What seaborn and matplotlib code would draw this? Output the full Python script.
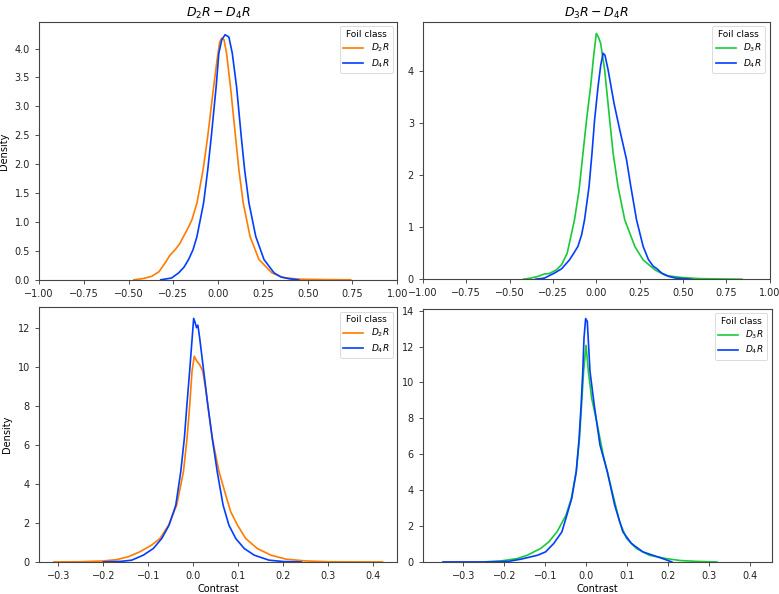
import pandas as pd
import matplotlib
matplotlib.use('Agg')
import matplotlib.pyplot as plt
import seaborn as sns

# --- DATA ---
# top-left: D2R vs D4R, wide x range
tl_d2r_x = [-0.47, -0.42, -0.37, -0.33, -0.296, -0.27, -0.24, -0.215, -0.193, -0.17, -0.146,
            -0.118, -0.084, -0.058, -0.025, -0.006, 0.008, 0.019, 0.033, 0.047, 0.069, 0.097,
            0.116, 0.14, 0.178, 0.228, 0.30, 0.36, 0.45, 0.6, 0.74]
tl_d2r_y = [0.0, 0.02, 0.06, 0.14, 0.29, 0.42, 0.52, 0.62, 0.75, 0.88, 1.04,
            1.33, 1.90, 2.48, 3.34, 3.8, 4.1, 4.18, 4.15, 3.92, 3.34, 2.48,
            1.90, 1.33, 0.75, 0.35, 0.12, 0.04, 0.01, 0.003, 0.0]
tl_d4r_x = [-0.32, -0.26, -0.22, -0.19, -0.165, -0.14, -0.118, -0.081, -0.058, -0.038, -0.011,
            0.004, 0.02, 0.039, 0.06, 0.079, 0.103, 0.129, 0.148, 0.172, 0.21, 0.256,
            0.312, 0.35, 0.40, 0.45]
tl_d4r_y = [0.0, 0.03, 0.12, 0.22, 0.35, 0.52, 0.75, 1.33, 1.90, 2.48, 3.34,
            3.92, 4.15, 4.24, 4.2, 3.92, 3.34, 2.48, 1.90, 1.33, 0.75, 0.35,
            0.12, 0.05, 0.015, 0.0]

# top-right: D3R vs D4R, wide x range
tr_d3r_x = [-0.42, -0.38, -0.34, -0.30, -0.27, -0.23, -0.20, -0.168, -0.126, -0.10, -0.077,
            -0.055, -0.033, -0.015, 0.0, 0.012, 0.025, 0.048, 0.077, 0.097, 0.125, 0.164,
            0.222, 0.27, 0.338, 0.40, 0.50, 0.60, 0.70, 0.84]
tr_d3r_y = [0.0, 0.02, 0.05, 0.10, 0.11, 0.18, 0.28, 0.50, 1.14, 1.70, 2.42,
            3.1, 3.70, 4.3, 4.72, 4.65, 4.53, 4.02, 3.06, 2.42, 1.78, 1.14,
            0.63, 0.37, 0.18, 0.07, 0.03, 0.01, 0.005, 0.0]
tr_d4r_x = [-0.35, -0.30, -0.24, -0.20, -0.155, -0.13, -0.106, -0.085, -0.068, -0.042, -0.025,
            -0.01, 0.01, 0.025, 0.039, 0.05, 0.068, 0.102, 0.135, 0.174, 0.199, 0.232,
            0.27, 0.30, 0.328, 0.35, 0.376, 0.42, 0.46, 0.50, 0.55]
tr_d4r_y = [0.0, 0.02, 0.12, 0.2, 0.37, 0.5, 0.63, 0.85, 1.14, 1.78, 2.42,
            3.06, 3.70, 4.1, 4.34, 4.30, 4.02, 3.38, 2.87, 2.30, 1.78, 1.14,
            0.63, 0.38, 0.25, 0.2, 0.12, 0.05, 0.02, 0.01, 0.0]

# bottom-left: D2R vs D4R, zoomed x range
bl_d2r_x = [-0.31, -0.25, -0.20, -0.17, -0.145, -0.119, -0.093, -0.074, -0.055, -0.037, -0.022,
            -0.014, -0.008, -0.003, 0.002, 0.008, 0.014, 0.021, 0.027, 0.032, 0.042, 0.057,
            0.072, 0.083, 0.098, 0.116, 0.142, 0.172, 0.206, 0.25, 0.30, 0.36, 0.42]
bl_d2r_y = [0.0, 0.01, 0.05, 0.12, 0.26, 0.52, 0.86, 1.21, 1.89, 2.92, 4.64,
            6.36, 8.08, 9.80, 10.57, 10.31, 10.14, 9.80, 8.94, 8.08, 6.36, 4.64,
            3.43, 2.58, 1.89, 1.21, 0.69, 0.35, 0.14, 0.05, 0.01, 0.003, 0.0]
bl_d4r_x = [-0.20, -0.16, -0.137, -0.111, -0.089, -0.070, -0.054, -0.039, -0.028, -0.020, -0.0143,
            -0.0083, 0.0007, 0.004, 0.007, 0.010, 0.014, 0.023, 0.032, 0.042, 0.053, 0.066,
            0.079, 0.094, 0.113, 0.135, 0.168, 0.20, 0.24]
bl_d4r_y = [0.0, 0.03, 0.09, 0.35, 0.69, 1.21, 1.89, 2.92, 4.64, 6.36, 8.08,
            9.80, 12.52, 12.3, 12.04, 12.17, 11.52, 9.80, 8.08, 6.36, 4.64, 2.92,
            1.89, 1.21, 0.69, 0.35, 0.09, 0.02, 0.0]

# bottom-right: D3R vs D4R, zoomed x range
br_d3r_x = [-0.25, -0.21, -0.168, -0.144, -0.111, -0.091, -0.071, -0.049, -0.036, -0.024, -0.016,
            -0.011, -0.006, 0.0, 0.0056, 0.0137, 0.026, 0.042, 0.062, 0.082, 0.099, 0.123,
            0.155, 0.195, 0.23, 0.27, 0.32]
br_d3r_y = [0.0, 0.05, 0.19, 0.37, 0.75, 1.12, 1.68, 2.61, 3.54, 5.03, 6.89,
            8.75, 10.61, 12.07, 10.61, 9.12, 7.82, 5.96, 4.10, 2.24, 1.31, 0.75,
            0.37, 0.19, 0.08, 0.03, 0.0]
br_d4r_x = [-0.35, -0.25, -0.19, -0.160, -0.119, -0.099, -0.079, -0.059, -0.047, -0.035, -0.024,
            -0.017, -0.012, -0.008, -0.005, -0.001, 0.003, 0.0097, 0.020, 0.034, 0.052, 0.070,
            0.090, 0.111, 0.139, 0.187, 0.21]
br_d4r_y = [0.0, 0.0, 0.03, 0.15, 0.37, 0.56, 1.03, 1.68, 2.61, 3.54, 5.03,
            6.89, 8.75, 10.61, 12.48, 13.56, 13.4, 10.61, 8.75, 6.52, 5.03, 3.17,
            1.68, 1.03, 0.56, 0.19, 0.0]

COLORS = {'$D_2R$': '#ff7c00', '$D_3R$': '#1ac938', '$D_4R$': '#023eff'}
FS = 7


def make_df(pairs):
    frames = []
    for label, xs, ys in pairs:
        frames.append(pd.DataFrame({'Contrast': xs, 'Density': ys, 'Foil class': label}))
    return pd.concat(frames, ignore_index=True)


panels = [
    # (position, data, title, xlim, ylim, xticks, yticks, ylabel, xlabel)
    ([0.050, 0.529, 0.460, 0.434],
     make_df([('$D_2R$', tl_d2r_x, tl_d2r_y), ('$D_4R$', tl_d4r_x, tl_d4r_y)]),
     '$D_2R - D_4R$', (-1, 1), (0, 4.46),
     [-1, -0.75, -0.5, -0.25, 0, 0.25, 0.5, 0.75, 1.0], [0, 0.5, 1, 1.5, 2, 2.5, 3, 3.5, 4],
     True, False),
    ([0.543, 0.530, 0.445, 0.433],
     make_df([('$D_3R$', tr_d3r_x, tr_d3r_y), ('$D_4R$', tr_d4r_x, tr_d4r_y)]),
     '$D_3R - D_4R$', (-1, 1), (0, 4.94),
     [-1, -0.75, -0.5, -0.25, 0, 0.25, 0.5, 0.75, 1.0], [0, 1, 2, 3, 4],
     False, False),
    ([0.050, 0.054, 0.460, 0.429],
     make_df([('$D_2R$', bl_d2r_x, bl_d2r_y), ('$D_4R$', bl_d4r_x, bl_d4r_y)]),
     None, (-0.343, 0.453), (0, 13.1),
     [-0.3, -0.2, -0.1, 0, 0.1, 0.2, 0.3, 0.4], [0, 2, 4, 6, 8, 10, 12],
     True, True),
    ([0.543, 0.054, 0.448, 0.426],
     make_df([('$D_3R$', br_d3r_x, br_d3r_y), ('$D_4R$', br_d4r_x, br_d4r_y)]),
     None, (-0.399, 0.455), (0, 14.1),
     [-0.3, -0.2, -0.1, 0, 0.1, 0.2, 0.3, 0.4], [0, 2, 4, 6, 8, 10, 12, 14],
     False, True),
]

fig = plt.figure(figsize=(7.79, 5.94), dpi=100)

for pos, df, title, xlim, ylim, xticks, yticks, show_ylabel, show_xlabel in panels:
    ax = fig.add_axes(pos)
    sns.lineplot(data=df, x='Contrast', y='Density', hue='Foil class',
                 palette=COLORS, linewidth=1.2, ax=ax, sort=True)
    ax.set_xlim(*xlim)
    ax.set_ylim(*ylim)
    ax.set_xticks(xticks)
    ax.set_yticks(yticks)
    if xlim == (-1, 1):
        ax.set_xticklabels([f'{t:.2f}'.replace('-', '\u2212') for t in xticks])
        ax.set_yticklabels([f'{t:.1f}' if len(yticks) > 5 else f'{t:g}' for t in yticks])
    else:
        ax.set_xticklabels([f'{t:.1f}'.replace('-', '\u2212') for t in xticks])
    ax.tick_params(labelsize=FS, length=3, width=0.6, color='#333333', labelcolor='#222222')
    for s in ax.spines.values():
        s.set_linewidth(0.8)
        s.set_color('#444444')
    if title:
        ax.set_title(title, fontsize=9, pad=4)
    ax.set_ylabel('Density' if show_ylabel else '', fontsize=FS)
    ax.set_xlabel('Contrast' if show_xlabel else '', fontsize=FS, labelpad=2)
    leg = ax.legend(title='Foil class', loc='upper right', fontsize=6.5,
                    title_fontsize=6.5, handlelength=2.2, borderpad=0.4,
                    labelspacing=0.3, alignment='center', markerfirst=True)
    for t in leg.get_texts():
        t.set_ha('right')
    leg.get_frame().set_linewidth(0.6)

fig.savefig('out.png', dpi=100)
